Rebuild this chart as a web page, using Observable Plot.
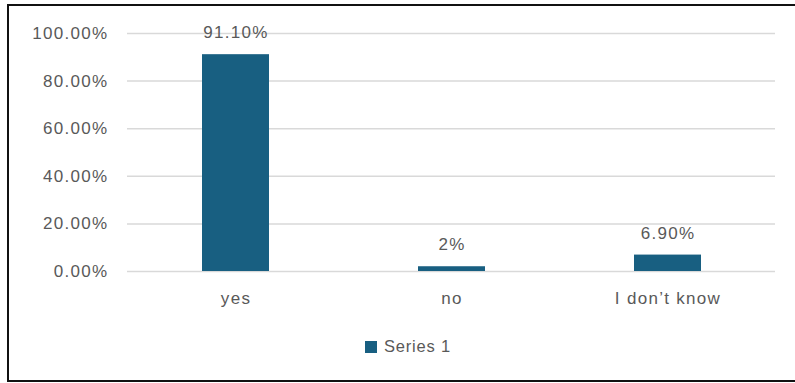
<!DOCTYPE html>
<html>
<head>
<meta charset="utf-8">
<script src="https://cdn.jsdelivr.net/npm/d3@7"></script>
<script src="https://cdn.jsdelivr.net/npm/@observablehq/plot@0.6"></script>
<style>
  html, body { margin: 0; padding: 0; background: #fff; overflow: hidden; }
  #frame {
    position: absolute; left: 7px; top: 4px; width: 800px; height: 374px;
    border-top: 2px solid #111; border-left: 2px solid #111; border-bottom: 2px solid #111;
  }
  #chart { position: absolute; left: 0; top: 0; }
  #chart svg text { letter-spacing: 1.3px; }
  #legend {
    position: absolute; left: 365px; top: 337px;
    font-family: "Liberation Sans", Arial, sans-serif; font-size: 16.5px; color: #595959;
    letter-spacing: 0.8px;
    display: flex; align-items: center;
  }
  #legend .sw { width: 12px; height: 12px; margin-right: 7px; }
</style>
</head>
<body>
<div id="frame"></div>
<div id="chart"></div>
<div id="legend"></div>
<script>
const categories = ["yes", "no", "I don\u2019t know"];
const values = [0.911, 0.02, 0.069];
const valueLabels = ["91.10%", "2%", "6.90%"];
const yTicks = [0, 0.2, 0.4, 0.6, 0.8, 1.0];
const seriesName = "Series 1";
const barColor = "#185f81";

const data = categories.map((c, i) => ({category: c, value: values[i], label: valueLabels[i]}));

const chart = Plot.plot({
  width: 795,
  height: 325,
  marginLeft: 127,
  marginRight: 20,
  marginTop: 33,
  marginBottom: 54,
  style: {fontFamily: "'Liberation Sans', Arial, sans-serif", fontSize: "17px", color: "#595959", background: "transparent"},
  x: {domain: categories, paddingInner: 0.69, paddingOuter: 0.345, label: null, tickSize: 0, tickPadding: 20},
  y: {domain: [0, 1], ticks: yTicks, tickFormat: d3.format(".2%"), label: null, tickSize: 0, tickPadding: 19},
  marks: [
    Plot.ruleY(yTicks, {stroke: "#d9d9d9", strokeWidth: 1.5}),
    Plot.barY(data, {x: "category", y: "value", fill: barColor}),
    Plot.text(data, {x: "category", y: "value", text: "label", dy: -22, fill: "#595959", fontSize: 17})
  ]
});
document.getElementById("chart").appendChild(chart);

const lg = document.getElementById("legend");
const sw = document.createElement("span");
sw.className = "sw";
sw.style.background = barColor;
lg.appendChild(sw);
const t = document.createElement("span");
t.textContent = seriesName;
lg.appendChild(t);
</script>
</body>
</html>
